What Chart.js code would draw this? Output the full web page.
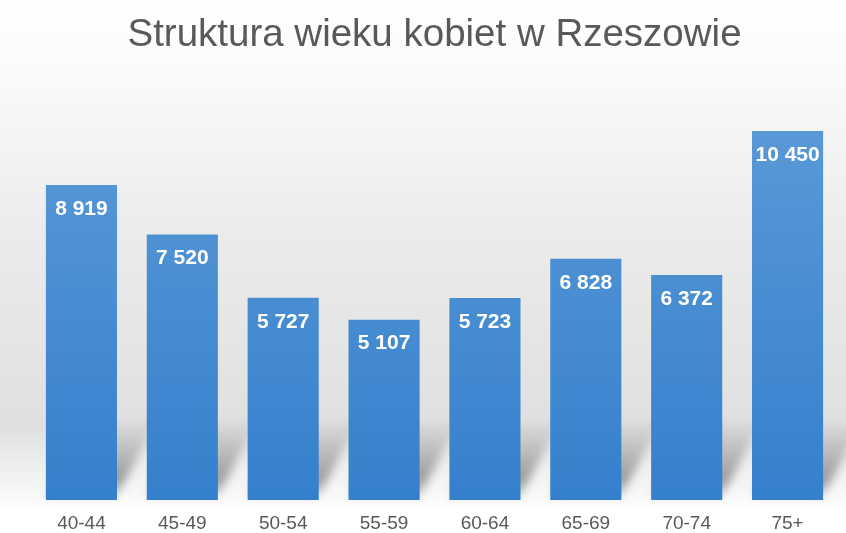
<!DOCTYPE html>
<html>
<head>
<meta charset="utf-8">
<script src="https://cdn.jsdelivr.net/npm/chart.js"></script>
<style>
  body { margin: 0; background: #fff; }
  #wrap { width: 846px; height: 533px; }
</style>
</head>
<body>
<div id="wrap"><canvas id="ageChart" width="846" height="533"></canvas></div>
<script>
var ageGroups = ['40-44', '45-49', '50-54', '55-59', '60-64', '65-69', '70-74', '75+'];
var womenCount = [8919, 7520, 5727, 5107, 5723, 6828, 6372, 10450];
var chartTitle = 'Struktura wieku kobiet w Rzeszowie';

// "8 919" style numbers
function fmt(v) {
    return String(v).replace(/\B(?=(\d{3})+(?!\d))/g, ' ');
}

// grey backdrop like the office template
var backdrop = {
    id: 'backdrop',
    beforeDraw: function(chart) {
        var ctx = chart.ctx;
        var g = ctx.createLinearGradient(0, 0, 0, chart.height);
        g.addColorStop(0, '#ffffff');
        g.addColorStop(0.12, '#fbfbfb');
        g.addColorStop(0.45, '#ebebeb');
        g.addColorStop(0.8, '#e0e0e0');
        g.addColorStop(0.9, '#f3f3f3');
        g.addColorStop(0.96, '#ffffff');
        ctx.save();
        ctx.fillStyle = g;
        ctx.fillRect(0, 0, chart.width, chart.height);
        ctx.restore();
    }
};

// slanted shadow behind every bar
var barShadow = {
    id: 'barShadow',
    beforeDatasetsDraw: function(chart) {
        var ctx = chart.ctx;
        var meta = chart.getDatasetMeta(0);
        ctx.save();
        ctx.filter = 'blur(5px)';
        meta.data.forEach(function(bar) {
            var x0 = bar.x - bar.width / 2;
            var x1 = bar.x + bar.width / 2;
            var b = bar.base;
            var g = ctx.createLinearGradient(0, b, 0, b - 80);
            g.addColorStop(0, 'rgba(0,0,0,0.1)');
            g.addColorStop(0.25, 'rgba(0,0,0,0.36)');
            g.addColorStop(1, 'rgba(0,0,0,0)');
            ctx.fillStyle = g;
            ctx.beginPath();
            ctx.moveTo(x0, b - 4);
            ctx.lineTo(x1, b - 4);
            ctx.lineTo(x1 + 40, b - 80);
            ctx.lineTo(x0 + 40, b - 80);
            ctx.closePath();
            ctx.fill();
        });
        ctx.restore();
    }
};

// white value labels inside the bars
var valueLabels = {
    id: 'valueLabels',
    afterDatasetsDraw: function(chart) {
        var ctx = chart.ctx;
        var meta = chart.getDatasetMeta(0);
        ctx.save();
        ctx.fillStyle = '#ffffff';
        ctx.font = 'bold 21px "Liberation Sans", Arial, sans-serif';
        ctx.textAlign = 'center';
        ctx.textBaseline = 'middle';
        meta.data.forEach(function(bar, i) {
            ctx.fillText(fmt(womenCount[i]), bar.x, bar.y + 24);
        });
        ctx.restore();
    }
};

var ctx = document.getElementById('ageChart').getContext('2d');
var ageChart = new Chart(ctx, {
    type: 'bar',
    data: {
        labels: ageGroups,
        datasets: [{
            data: womenCount,
            backgroundColor: function(c) {
                var area = c.chart.chartArea;
                if (!area) return '#4a8fd4';
                var g = c.chart.ctx.createLinearGradient(0, area.top, 0, area.bottom);
                g.addColorStop(0, '#5e9cd8');
                g.addColorStop(1, '#3580cc');
                return g;
            },
            borderWidth: 0,
            barPercentage: 0.705,
            categoryPercentage: 1
        }]
    },
    options: {
        responsive: false,
        animation: false,
        layout: {
            padding: { left: 31, right: 8, top: 0, bottom: 0 }
        },
        scales: {
            x: {
                grid: { display: false, drawTicks: false },
                border: { display: false },
                afterFit: function(scale) {
                    scale.height = 33;
                },
                ticks: {
                    color: '#595959',
                    padding: 12,
                    font: { size: 19, family: '"Liberation Sans", Arial, sans-serif' }
                }
            },
            y: {
                display: false,
                min: 0,
                max: 12000
            }
        },
        plugins: {
            legend: { display: false },
            tooltip: { enabled: false },
            title: {
                display: true,
                fullSize: false,
                text: chartTitle,
                color: '#595959',
                font: { size: 38.5, weight: 'normal', family: '"Liberation Sans", Arial, sans-serif' },
                padding: { top: 12, bottom: 18 }
            }
        }
    },
    plugins: [backdrop, barShadow, valueLabels]
});
</script>
</body>
</html>
